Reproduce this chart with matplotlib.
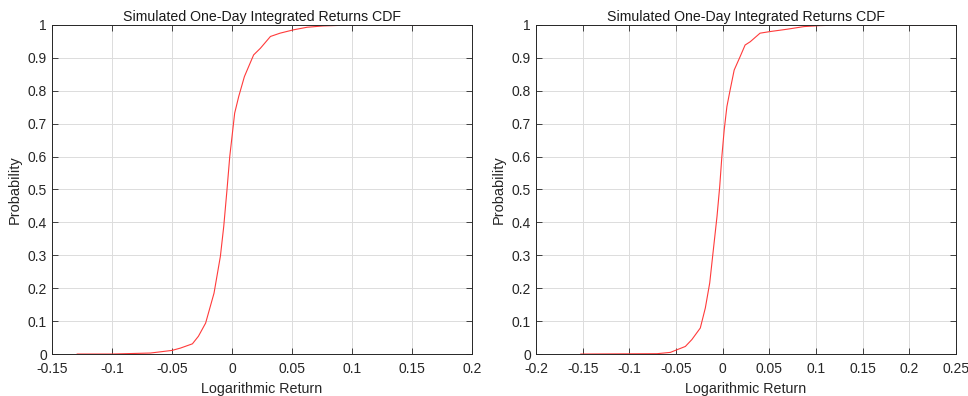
import matplotlib
matplotlib.use('Agg')
import matplotlib.pyplot as plt
from matplotlib.ticker import FuncFormatter

# Left panel: CDF points
left_x = [-0.129, -0.1, -0.068, -0.05, -0.043, -0.033, -0.028, -0.022, -0.015, -0.0097,
          -0.0069, -0.0042, -0.0019, 0.0, 0.0022, 0.0056, 0.0103, 0.0139, 0.018, 0.0236,
          0.032, 0.040, 0.051, 0.0625, 0.076, 0.101, 0.169]
left_p = [0.0, 0.0, 0.003, 0.011, 0.018, 0.031, 0.054, 0.094, 0.185, 0.297,
          0.388, 0.499, 0.60, 0.661, 0.732, 0.783, 0.843, 0.874, 0.909, 0.929,
          0.965, 0.975, 0.985, 0.993, 0.997, 1.0, 1.0]

# Right panel
right_x = [-0.152, -0.0704, -0.056, -0.049, -0.040, -0.033, -0.024, -0.0186, -0.0139, -0.0104,
           -0.0061, -0.0032, -0.0009, 0.0016, 0.0045, 0.008, 0.0123, 0.0187, 0.024, 0.0295,
           0.040, 0.051, 0.069, 0.087, 0.104, 0.131, 0.223]
right_p = [0.0, 0.001, 0.005, 0.013, 0.023, 0.044, 0.079, 0.14, 0.216, 0.307,
           0.418, 0.509, 0.60, 0.681, 0.752, 0.803, 0.863, 0.904, 0.939, 0.949,
           0.975, 0.98, 0.987, 0.995, 0.998, 1.0, 1.0]

left_xticks = [-0.15, -0.1, -0.05, 0, 0.05, 0.1, 0.15, 0.2]
right_xticks = [-0.2, -0.15, -0.1, -0.05, 0, 0.05, 0.1, 0.15, 0.2, 0.25]
yticks = [0, 0.1, 0.2, 0.3, 0.4, 0.5, 0.6, 0.7, 0.8, 0.9, 1]

title = 'Simulated One-Day Integrated Returns CDF'
xlabel = 'Logarithmic Return'
ylabel = 'Probability'


def style_axes(ax, xticks):
    ax.set_xlim(xticks[0], xticks[-1])
    ax.set_ylim(0, 1)
    ax.set_xticks(xticks)
    ax.set_yticks(yticks)
    fmt = FuncFormatter(lambda v, pos: '%g' % round(v, 4))
    ax.xaxis.set_major_formatter(fmt)
    ax.yaxis.set_major_formatter(fmt)
    ax.grid(True, color='#dcdcdc', linewidth=0.7)
    ax.set_axisbelow(True)
    ax.tick_params(direction='in', top=True, right=True, length=4,
                   width=0.6, color='#262626', labelsize=10, labelcolor='#262626')
    ax.tick_params(axis='x', pad=6)
    for s in ax.spines.values():
        s.set_color('#262626')
        s.set_linewidth(0.7)
    ax.set_title(title, fontsize=10.2, color='#1a1a1a', pad=3)
    ax.set_xlabel(xlabel, fontsize=10.3, color='#262626', labelpad=4)
    ax.set_ylabel(ylabel, fontsize=10.5, color='#262626', labelpad=4)


def main():
    plt.rcParams['font.family'] = ['Liberation Sans', 'DejaVu Sans']
    fig = plt.figure(figsize=(9.68, 3.96), dpi=100)
    ax1 = fig.add_axes([0.0537, 0.106, 0.434, 0.831])
    ax2 = fig.add_axes([0.5537, 0.106, 0.434, 0.831])

    ax1.plot(left_x, left_p, color='#ff3b3b', linewidth=0.8)
    style_axes(ax1, left_xticks)

    ax2.plot(right_x, right_p, color='#ff3b3b', linewidth=0.8)
    style_axes(ax2, right_xticks)

    fig.savefig('out.png', dpi=100)
    plt.close(fig)


if __name__ == '__main__':
    main()
